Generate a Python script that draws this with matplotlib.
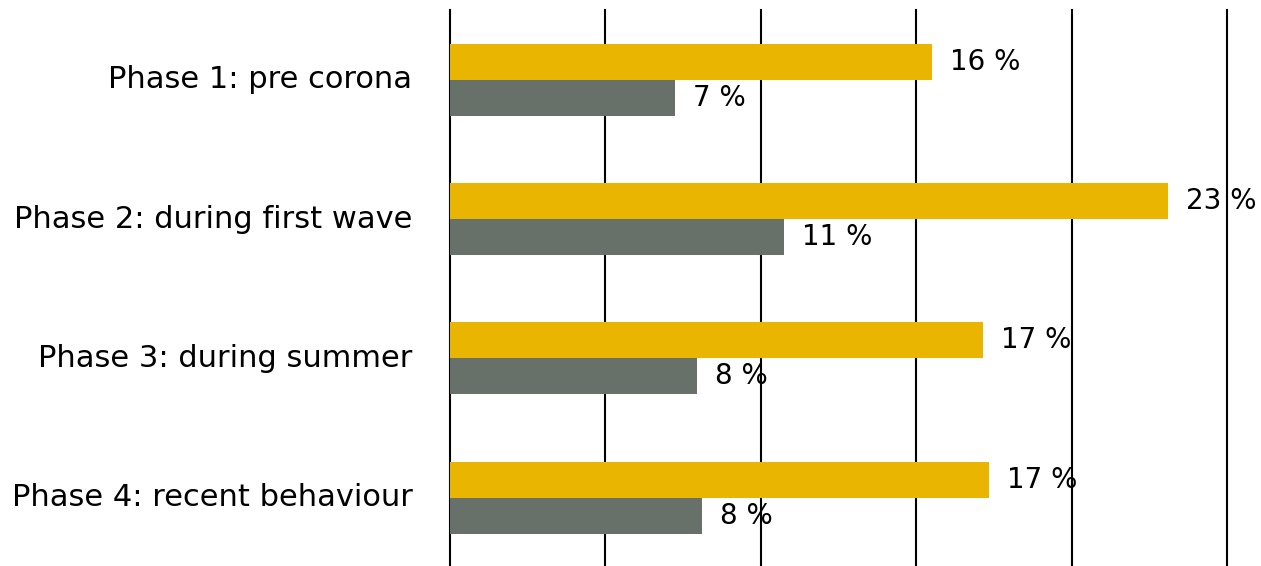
import matplotlib
matplotlib.use("Agg")
import matplotlib.pyplot as plt
import numpy as np

# ── Data ──────────────────────────────────────────────────────────────────────

phases = [
    "Phase 1: pre corona",
    "Phase 2: during first wave",
    "Phase 3: during summer",
    "Phase 4: recent behaviour",
]
share_gold = [15.5, 23.1, 17.15, 17.35]
share_grey = [7.25, 10.75, 7.95, 8.1]
x_ticks = [0, 5, 10, 15, 20, 25]

GOLD = "#E9B500"
GREY = "#67716A"

# ── Plot ──────────────────────────────────────────────────────────────────────

fig = plt.figure(figsize=(12.61, 5.66), dpi=100)
ax = fig.add_axes([450 / 1261, 0.0, 777 / 1261, 1 - 10 / 566])

y = np.arange(len(phases))
h = 0.258

bars_g = ax.barh(y - h / 2, share_gold, height=h, color=GOLD, zorder=3)
bars_r = ax.barh(y + h / 2, share_grey, height=h, color=GREY, zorder=3)

for bars, vals in ((bars_g, share_gold), (bars_r, share_grey)):
    for b, v in zip(bars, vals):
        ax.text(v + 0.58, b.get_y() + b.get_height() / 2, f"{v:.0f} %",
                va="center", ha="left", fontsize=20, zorder=2, clip_on=False)

ax.set_xlim(0, 25)
ax.set_ylim(3.49, -0.50)
ax.set_xticks(x_ticks)
ax.set_yticks(y)
ax.set_yticklabels(phases, fontsize=22)
for lbl in ax.get_yticklabels():
    lbl.set_va("center")
ax.tick_params(axis="x", length=0, labelbottom=False)
ax.tick_params(axis="y", length=0, pad=27)

ax.set_axisbelow(False)   # grid at zorder 2.5: over labels, under bars
ax.xaxis.grid(True, color="black", linewidth=1.5)
for gl in ax.get_xgridlines():
    gl.set_clip_on(False)
ax.yaxis.grid(False)
for s in ax.spines.values():
    s.set_visible(False)

fig.savefig("out.png", dpi=100)
